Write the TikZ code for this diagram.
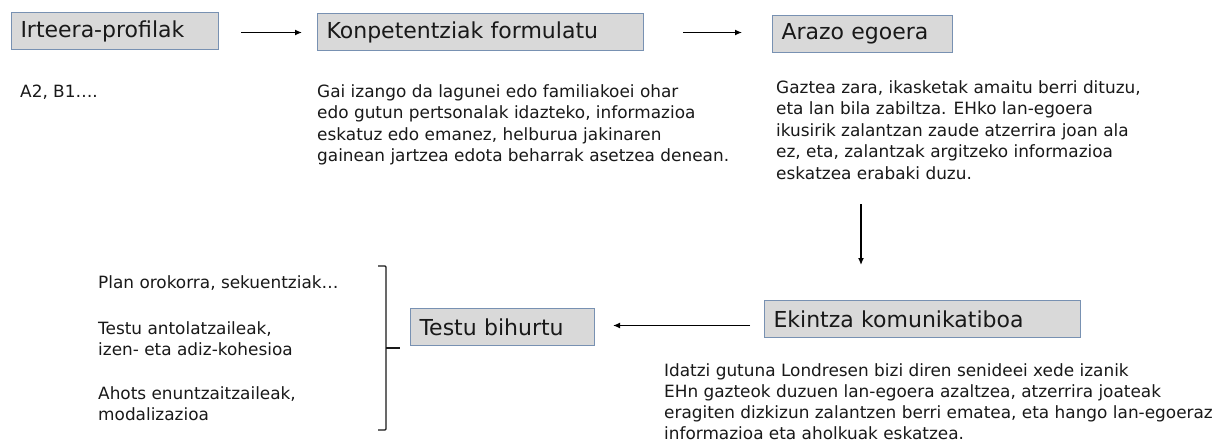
\documentclass[tikz,border=0pt]{standalone}
\usepackage{fontspec}
\setmainfont{DejaVu Sans}
\usetikzlibrary{arrows.meta}
\definecolor{boxfill}{RGB}{217,217,217}
\definecolor{boxline}{RGB}{120,145,178}
\definecolor{ink}{RGB}{25,25,25}
\begin{document}
\begin{tikzpicture}[x=1pt,y=-1pt,
  titlebox/.style={draw=boxline, fill=boxfill, line width=1pt, anchor=north west,
    inner xsep=9pt, inner ysep=0pt, align=left, minimum height=37pt,
    font=\fontsize{22}{24}\selectfont, text=ink},
  body/.style={anchor=north west, inner sep=0pt, align=left,
    font=\fontsize{16.9}{21.5}\selectfont, text=ink},
  arr/.style={-{Latex[length=7pt,width=6pt]}, line width=1.3pt, draw=black},
  brace/.style={line width=1.2pt, draw=ink, rounded corners=1pt}]
\useasboundingbox (0,0) rectangle (1216,444);
\fill[white] (0,0) rectangle (1216,444);

\node[titlebox, text width=189pt] (irt) at (11,12) {Irteera-profilak};
\node[titlebox, text width=308pt] (komp) at (317,13) {Konpetentziak formulatu};
\node[titlebox, text width=162pt] (arazo) at (772,15) {Arazo egoera};
\node[titlebox, text width=298pt] (ekin) at (764,300) {Ekintza komunikatiboa};
\node[titlebox, text width=166pt] (testu) at (410,308) {Testu bihurtu};

\node[body] (a2) at (20,85) {A2, B1….};
\node[body] (komptxt) at (317,84) {Gai izango da lagunei edo familiakoei ohar\\edo gutun pertsonalak idazteko, informazioa\\eskatuz edo emanez, helburua jakinaren\\gainean jartzea edota beharrak asetzea denean.};
\node[body] (araztxt) at (776,80) {Gaztea zara, ikasketak amaitu berri dituzu,\\eta lan bila zabiltza. EHko lan-egoera\\ikusirik zalantzan zaude atzerrira joan ala\\ez, eta, zalantzak argitzeko informazioa\\eskatzea erabaki duzu.};
\node[body, anchor=north east, font=\fontsize{16.9}{21.1}\selectfont] (ekintxt) at (1213,363) {Idatzi gutuna Londresen bizi diren senideei xede izanik\\EHn gazteok duzuen lan-egoera azaltzea, atzerrira joateak\\eragiten dizkizun zalantzen berri ematea, eta hango lan-egoeraz\\informazioa eta aholkuak eskatzea.};
\node[body] (plan) at (98,275) {Plan orokorra, sekuentziak…};
\node[body] (antol) at (98,321) {Testu antolatzaileak,\\izen- eta adiz-kohesioa};
\node[body] (ahots) at (98,386) {Ahots enuntzaitzaileak,\\modalizazioa};

\draw[arr, shorten <=22pt, shorten >=15pt] ([yshift=-1.5pt]irt.east) -- ([yshift=-0.5pt]komp.west);
\draw[arr, shorten <=39pt, shorten >=30pt] ([yshift=-0.5pt]komp.east) -- ([yshift=1.5pt]arazo.west);
\coordinate (v1) at (861,204);
\coordinate (v2) at (861,265);
\draw[arr] (v1) -- (v2);
\draw[arr] ([xshift=-14pt,yshift=-6.5pt]ekin.west) -- ([xshift=18pt,yshift=1.5pt]testu.east);

\coordinate (bt) at (378,266);
\coordinate (bb) at (378,430);
\coordinate (bm) at (386,348);
\draw[brace] (bt) -- ++(8,0) |- (bb);
\draw[brace] (bm) -- ++(14,0);
\end{tikzpicture}
\end{document}
